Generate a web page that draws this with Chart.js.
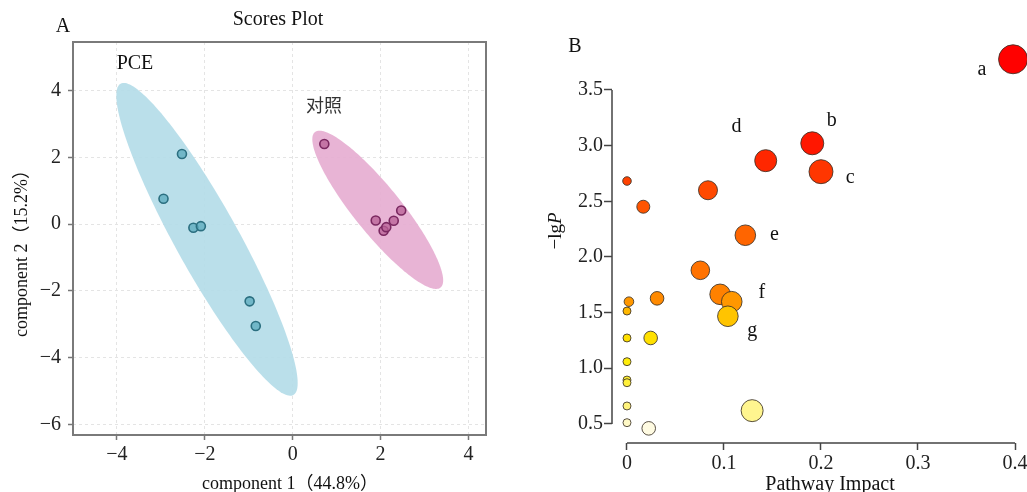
<!DOCTYPE html>
<html>
<head>
<meta charset="utf-8">
<script src="https://cdn.jsdelivr.net/npm/chart.js@4.4.0/dist/chart.umd.min.js"></script>
<style>
html,body{margin:0;padding:0;background:#fff;}
#wrap{position:relative;width:1027px;height:492px;overflow:hidden;background:#fff;}
#ca{position:absolute;left:0;top:0;}
#cb{position:absolute;left:520px;top:0;}
</style>
</head>
<body>
<div id="wrap">
<canvas id="ca" width="520" height="492"></canvas>
<canvas id="cb" width="507" height="492"></canvas>
</div>
<script>
// ---------- Panel A data (PLS-DA scores) ----------
const pceX = [-2.52, -2.94, -2.26, -2.09, -0.98, -0.84];
const pceY = [2.10, 0.76, -0.11, -0.06, -2.31, -3.05];
const ctrlX = [0.72, 1.89, 2.07, 2.13, 2.30, 2.47];
const ctrlY = [2.40, 0.11, -0.20, -0.09, 0.10, 0.41];
// confidence ellipses: centre, half major-axis vector, half minor-axis vector (data units)
const pceEllipseCenter = [-1.95, -0.455];
const pceEllipseMajor = [1.966, -4.658];
const pceEllipseMinor = [-0.628, -0.460];
const ctrlEllipseCenter = [1.936, 0.428];
const ctrlEllipseMajor = [1.43, -2.326];
const ctrlEllipseMinor = [-0.415, -0.443];
const aXTicks = [-4, -2, 0, 2, 4];
const aYTicks = [-6, -4, -2, 0, 2, 4];

// ---------- Panel B data (pathway analysis) ----------
const impact = [0.398, 0.191, 0.143, 0.200, 0.000, 0.0835, 0.0168, 0.122, 0.0756, 0.096, 0.031, 0.002, 0.108, 0.000, 0.104, 0.000, 0.0244, 0.000, 0.000, 0.000, 0.000, 0.129, 0.000, 0.0224];
const negLogP = [3.776, 3.021, 2.865, 2.766, 2.682, 2.599, 2.451, 2.195, 1.880, 1.664, 1.628, 1.598, 1.598, 1.514, 1.467, 1.272, 1.272, 1.059, 0.894, 0.870, 0.661, 0.619, 0.511, 0.460];
const bubbleR = [14.5, 11.5, 11, 12, 4.3, 9.5, 6.5, 10.3, 9.3, 10.3, 6.8, 4.8, 10.3, 4, 10.3, 4, 6.8, 4, 4, 4, 4, 11, 4, 6.8];
const pathLabels = ['a', 'b', 'c', 'd', 'e', 'f', 'g'];
const pathLabelX = [0.366, 0.211, 0.230, 0.113, 0.152, 0.139, 0.129];
const pathLabelY = [3.68, 3.22, 2.71, 3.167, 2.197, 1.676, 1.335];
const bXTicks = [0, 0.1, 0.2, 0.3, 0.4];
const bYTicks = [0.5, 1.0, 1.5, 2.0, 2.5, 3.0, 3.5];

const SERIF = '"Liberation Serif", "Noto Sans CJK SC", serif';
const fmtMinus = v => String(v).replace('-', '\u2212');
const noPad = s => { s.paddingLeft = 0; s.paddingRight = 0; s.paddingTop = 0; s.paddingBottom = 0; };

// ---------- Panel A ----------
const ellipses = [
  {c: pceEllipseCenter, u: pceEllipseMajor, v: pceEllipseMinor, color: 'rgba(178,220,232,0.9)'},
  {c: ctrlEllipseCenter, u: ctrlEllipseMajor, v: ctrlEllipseMinor, color: 'rgba(230,172,208,0.9)'}
];
const ellipsePlugin = {
  id: 'ellipses',
  beforeDatasetsDraw(chart) {
    const {ctx, chartArea: a, scales: {x, y}} = chart;
    ctx.save();
    ctx.beginPath(); ctx.rect(a.left, a.top, a.width, a.height); ctx.clip();
    ellipses.forEach(e => {
      ctx.beginPath();
      for (let i = 0; i <= 180; i++) {
        const t = i / 180 * 2 * Math.PI;
        const dx = e.c[0] + e.u[0] * Math.cos(t) + e.v[0] * Math.sin(t);
        const dy = e.c[1] + e.u[1] * Math.cos(t) + e.v[1] * Math.sin(t);
        const px = x.getPixelForValue(dx), py = y.getPixelForValue(dy);
        if (i === 0) ctx.moveTo(px, py); else ctx.lineTo(px, py);
      }
      ctx.closePath();
      ctx.fillStyle = e.color;
      ctx.fill();
    });
    ctx.restore();
  },
  afterDraw(chart) {
    const {ctx, chartArea: a} = chart;
    ctx.save();
    ctx.strokeStyle = '#7a7a7a';
    ctx.lineWidth = 2;
    ctx.strokeRect(a.left, a.top, a.width, a.height);
    ctx.fillStyle = '#111';
    ctx.textAlign = 'center';
    ctx.textBaseline = 'middle';
    ctx.font = '20px ' + SERIF;
    ctx.fillText('A', 63, 27);
    ctx.fillText('Scores Plot', 278, 20);
    ctx.fillText('PCE', 135, 64);
    ctx.font = '18px "Noto Sans CJK SC", sans-serif';
    ctx.fillStyle = '#333';
    ctx.fillText('对照', 324, 105);
    ctx.fillStyle = '#111';
    ctx.font = '18px ' + SERIF;
    ctx.fillText('component 1\uFF0844.8%\uFF09', 290, 484);
    ctx.save();
    ctx.translate(22, 249);
    ctx.rotate(-Math.PI / 2);
    ctx.fillText('component 2\uFF0815.2%\uFF09', 0, 0);
    ctx.restore();
    ctx.restore();
  }
};

new Chart(document.getElementById('ca'), {
  type: 'scatter',
  data: {
    datasets: [
      {label: 'PCE', data: pceX.map((v, i) => ({x: v, y: pceY[i]})),
       pointRadius: 4.5, pointBackgroundColor: 'rgba(90,170,188,0.75)', pointBorderColor: '#2b6f80', pointBorderWidth: 1.6},
      {label: '对照', data: ctrlX.map((v, i) => ({x: v, y: ctrlY[i]})),
       pointRadius: 4.5, pointBackgroundColor: 'rgba(184,96,150,0.75)', pointBorderColor: '#7a2860', pointBorderWidth: 1.6}
    ]
  },
  options: {
    responsive: false, animation: false, devicePixelRatio: 1,
    layout: {autoPadding: false, padding: {left: 0, top: 42, right: 34, bottom: 0}},
    plugins: {legend: {display: false}, tooltip: {enabled: false}},
    scales: {
      x: {
        type: 'linear', min: -5, max: 4.4,
        afterBuildTicks: s => { s.ticks = aXTicks.map(v => ({value: v})); },
        afterFit: s => { s.height = 57; noPad(s); },
        grid: {color: '#e4e4e4', lineWidth: 1, tickColor: '#777', tickLength: 5, tickWidth: 1.5},
        border: {display: false, dash: [3, 3]},
        ticks: {font: {family: SERIF, size: 20}, color: '#222', padding: 3, maxRotation: 0, callback: v => fmtMinus(v)}
      },
      y: {
        type: 'linear', min: -6.31, max: 5.45,
        afterBuildTicks: s => { s.ticks = aYTicks.map(v => ({value: v})); },
        afterFit: s => { s.width = 73; noPad(s); },
        grid: {color: '#e4e4e4', lineWidth: 1, tickColor: '#777', tickLength: 5, tickWidth: 1.5},
        border: {display: false, dash: [3, 3]},
        ticks: {font: {family: SERIF, size: 20}, color: '#222', padding: 7, callback: v => fmtMinus(v)}
      }
    }
  },
  plugins: [ellipsePlugin]
});

// ---------- Panel B ----------
const colorStops = [
  [0.45, [255, 251, 232]], [0.55, [255, 248, 176]], [0.65, [255, 243, 128]], [0.9, [255, 240, 48]],
  [1.1, [255, 236, 0]], [1.3, [255, 222, 0]], [1.47, [255, 196, 0]], [1.56, [255, 170, 0]],
  [1.62, [255, 140, 0]], [1.7, [255, 120, 0]], [2.0, [255, 110, 0]], [2.3, [255, 96, 0]],
  [2.5, [255, 82, 0]], [2.7, [255, 64, 0]], [2.9, [255, 34, 0]], [3.1, [255, 16, 0]], [3.8, [255, 0, 0]]
];
function colorFor(v) {
  if (v <= colorStops[0][0]) return 'rgb(' + colorStops[0][1].join(',') + ')';
  for (let i = 1; i < colorStops.length; i++) {
    if (v <= colorStops[i][0]) {
      const [v0, c0] = colorStops[i - 1], [v1, c1] = colorStops[i];
      const t = (v - v0) / (v1 - v0);
      return 'rgb(' + c0.map((c, k) => Math.round(c + (c1[k] - c) * t)).join(',') + ')';
    }
  }
  return 'rgb(255,0,0)';
}

const pathPlugin = {
  id: 'pathText',
  afterDraw(chart) {
    const {ctx, chartArea: a, scales: {x, y}} = chart;
    ctx.save();
    ctx.strokeStyle = '#444';
    ctx.lineWidth = 1.5;
    ctx.beginPath();
    ctx.moveTo(a.left, y.getPixelForValue(3.5));
    ctx.lineTo(a.left, y.getPixelForValue(0.5));
    ctx.moveTo(x.getPixelForValue(0), a.bottom);
    ctx.lineTo(x.getPixelForValue(0.4), a.bottom);
    ctx.stroke();
    ctx.fillStyle = '#111';
    ctx.textAlign = 'center';
    ctx.textBaseline = 'middle';
    ctx.font = '20px ' + SERIF;
    pathLabels.forEach((t, i) => ctx.fillText(t, x.getPixelForValue(pathLabelX[i]), y.getPixelForValue(pathLabelY[i])));
    ctx.fillText('B', 55, 47);
    ctx.fillText('Pathway Impact', 310, 485);
    // y title: −lgP with italic P
    ctx.save();
    ctx.translate(36, 231);
    ctx.rotate(-Math.PI / 2);
    ctx.textAlign = 'left';
    ctx.font = '19px ' + SERIF;
    const w1 = ctx.measureText('\u2212lg').width;
    ctx.font = 'italic 19px ' + SERIF;
    const w2 = ctx.measureText('P').width;
    const start = -(w1 + w2) / 2;
    ctx.font = '19px ' + SERIF;
    ctx.fillText('\u2212lg', start, 0);
    ctx.font = 'italic 19px ' + SERIF;
    ctx.fillText('P', start + w1, 0);
    ctx.restore();
    ctx.restore();
  }
};

new Chart(document.getElementById('cb'), {
  type: 'bubble',
  data: {
    datasets: [{
      data: impact.map((v, i) => ({x: v, y: negLogP[i], r: bubbleR[i]})),
      backgroundColor: negLogP.map(colorFor),
      borderColor: 'rgba(60,50,40,0.85)',
      borderWidth: 1,
      clip: false
    }]
  },
  options: {
    responsive: false, animation: false, devicePixelRatio: 1,
    layout: {autoPadding: false, padding: {left: 0, top: 40, right: 0, bottom: 0}},
    plugins: {legend: {display: false}, tooltip: {enabled: false}},
    scales: {
      x: {
        type: 'linear', min: -0.01546, max: 0.41237,
        afterBuildTicks: s => { s.ticks = bXTicks.map(v => ({value: v})); },
        afterFit: s => { s.height = 49; noPad(s); },
        grid: {drawOnChartArea: false, drawTicks: true, tickLength: 7, tickColor: '#444', tickWidth: 1.5},
        border: {display: false},
        ticks: {font: {family: SERIF, size: 20}, color: '#222', padding: 2, maxRotation: 0,
                callback: v => v === 0 ? '0' : v.toFixed(1)}
      },
      y: {
        type: 'linear', min: 0.3284, max: 3.949,
        afterBuildTicks: s => { s.ticks = bYTicks.map(v => ({value: v})); },
        afterFit: s => { s.width = 92; noPad(s); },
        grid: {drawOnChartArea: false, drawTicks: true, tickLength: 8, tickColor: '#444', tickWidth: 1.5},
        border: {display: false},
        ticks: {font: {family: SERIF, size: 20}, color: '#222', padding: 1, callback: v => v.toFixed(1)}
      }
    }
  },
  plugins: [pathPlugin]
});
</script>
</body>
</html>
